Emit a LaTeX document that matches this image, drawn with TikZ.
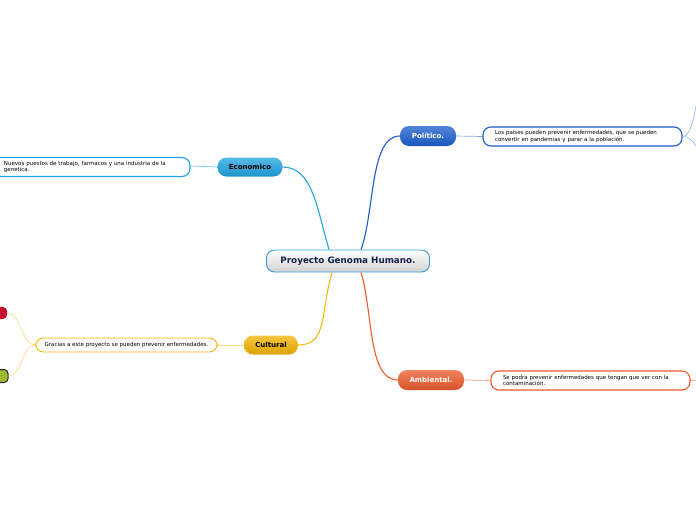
\documentclass[tikz,border=0pt]{standalone}
\usepackage{fontspec}
\setmainfont{DejaVu Sans}
\usepackage{tikz}
\usetikzlibrary{arrows.meta}

\definecolor{ecoblue}{HTML}{1EA4E0}
\definecolor{polblue}{HTML}{1A5CC8}
\definecolor{culgold}{HTML}{F5B400}
\definecolor{ambred}{HTML}{EE5A2A}
\definecolor{rootline}{HTML}{3A9AD9}
\definecolor{navy}{HTML}{10204A}
\definecolor{stubred}{HTML}{C8102E}
\definecolor{stubgreen}{HTML}{9BB82E}

\begin{document}
\begin{tikzpicture}
[x=1pt,y=-1pt,
 root node/.style={draw=rootline,line width=0.9pt,rounded corners=8pt,top color=white,bottom color=black!18,
   minimum width=163pt,minimum height=22pt,inner sep=0pt,font=\fontsize{8.8}{10}\selectfont\bfseries,text=navy},
 topic node/.style={rounded corners=9pt,minimum height=20pt,inner sep=0pt,font=\fontsize{7}{8}\selectfont\bfseries},
 note node/.style={draw,fill=white,line width=1.1pt,rounded corners=8pt,minimum height=19pt,inner xsep=12pt,
   inner ysep=2pt,align=left,font=\fontsize{5.5}{6.8}\selectfont},
 branch/.style={line width=1.1pt},
 twig/.style={line width=0.7pt}]
\useasboundingbox (0,0) rectangle (696,520);
\clip (0,0) rectangle (696,520);

\node[root node] (root) at (348,261) {Proyecto Genoma Humano.};

\node[topic node,minimum width=56pt,top color=polblue!75,bottom color=polblue!95!black,text=white] (pol) at (428,136) {Político.};
\node[topic node,minimum width=65pt,minimum height=19pt,top color=ecoblue!75,bottom color=ecoblue!90!black,text=black] (eco) at (250,167) {Economico};
\node[topic node,minimum width=54pt,minimum height=19pt,top color=culgold!75,bottom color=culgold!90!black,text=black] (cul) at (271,345) {Cultural};
\node[topic node,minimum width=66pt,top color=ambred!75,bottom color=ambred!90!black,text=white] (amb) at (431,380) {Ambiental.};

\node[note node,draw=polblue,text width=175pt] (polnote) at (582.5,136.5)
  {Los países pueden prevenir enfermedades, que se pueden\\convertir en pandemias y parar a la población.};
\node[note node,draw=ecoblue,text width=174pt] (econote) at (91,167)
  {Nuevos puestos de trabajo, farmacos y una industria de la\\genetica.};
\node[note node,draw=culgold,inner xsep=9pt,minimum height=14pt,line width=0.9pt] (culnote) at (126.5,345)
  {Gracias a este proyecto se pueden prevenir enfermedades.};
\node[note node,draw=ambred,text width=175pt] (ambnote) at (590.5,380.5)
  {Se podra prevenir enfermedades que tengan que ver con la\\contaminación.};

% stubs cut by the page edge
\node[draw=none,fill=stubred,rounded corners=4pt,minimum width=20pt,minimum height=12pt,inner sep=0pt] (red) at (-3,313) {};
\node[draw=black!85,line width=1pt,fill=stubgreen,rounded corners=4pt,minimum width=20pt,minimum height=13pt,inner sep=0pt] (green) at (-2,376) {};
\coordinate (polup) at (700,90);
\coordinate (poldown) at (700,150);
\coordinate (ambout) at (700,380);

\path[branch]
(root.north west) ++(63,0) coordinate (r1)
(root.north west) ++(95,0) coordinate (r2)
(root.south west) ++(66,0) coordinate (r3)
(root.south west) ++(95,0) coordinate (r4);

\draw[branch,ecoblue] (r1) .. controls +(-12,-40) and +(30,0) .. (eco.east);
\draw[branch,polblue] (r2) .. controls +(14,-40) and +(-30,0) .. (pol.west);
\draw[branch,culgold!90] (r3) .. controls +(-12,40) and +(30,0) .. (cul.east);
\draw[branch,ambred] (r4) .. controls +(12,40) and +(-30,0) .. (amb.west);

\draw[twig,ecoblue!60] (eco.west) -- ([yshift=1pt]econote.east);
\draw[twig,polblue!55] (pol.east) -- (polnote.west);
\draw[twig,culgold!45] (cul.west) -- (culnote.west -| culnote.east);
\draw[twig,ambred!60] (amb.east) -- (ambnote.west);

\draw[twig,polblue!45] (polnote.east) .. controls +(10,0) and +(-6,20) .. (polup);
\draw[twig,polblue!45] (polnote.east) .. controls +(10,0) and +(-6,-4) .. (poldown);
\draw[twig,ambred!60] (ambnote.east) -- (ambout);
\draw[twig,culgold!45] (culnote.west) .. controls +(-14,0) and +(14,0) .. (red.east);
\draw[twig,culgold!45] (culnote.west) .. controls +(-14,0) and +(14,0) .. (green.east);
\end{tikzpicture}
\end{document}
